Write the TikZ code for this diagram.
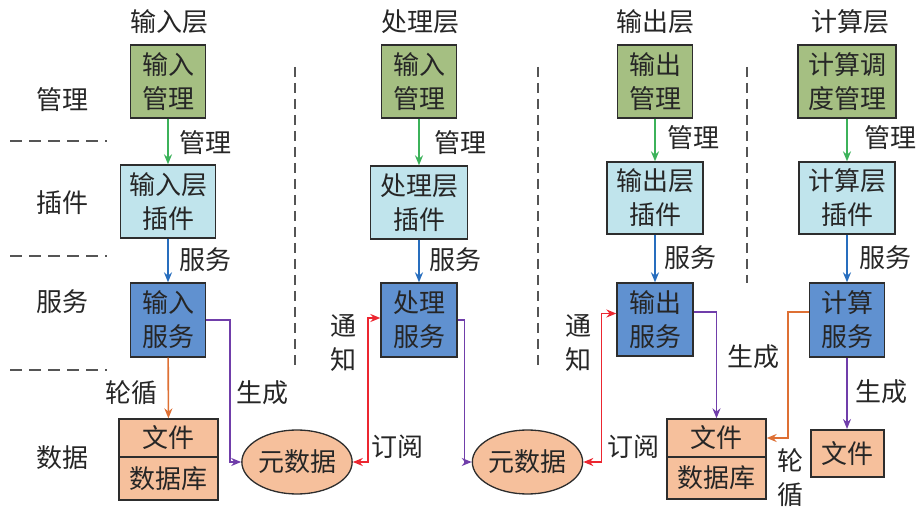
\documentclass[tikz,border=0pt]{standalone}
\usepackage{fontspec}
\newfontfamily\cjk{Noto Sans CJK SC}
\usetikzlibrary{arrows.meta,shapes.geometric}
\definecolor{mgmtc}{RGB}{165,191,130}
\definecolor{plugc}{RGB}{192,228,236}
\definecolor{servc}{RGB}{96,145,208}
\definecolor{datac}{RGB}{246,192,156}
\definecolor{bordc}{RGB}{45,45,45}
\definecolor{garr}{RGB}{60,178,90}
\definecolor{barr}{RGB}{40,110,190}
\definecolor{oarr}{RGB}{222,112,52}
\definecolor{parr}{RGB}{112,62,170}
\definecolor{rarr}{RGB}{236,38,48}
\definecolor{dashc}{RGB}{85,85,85}
\begin{document}
\begin{tikzpicture}[x=1pt,y=-1pt,
  every node/.style={font=\cjk\fontsize{26}{34}\selectfont, inner sep=0pt, align=center, text=black!85},
  bx/.style={draw=bordc, line width=1.3pt},
  mgmt/.style={bx, fill=mgmtc},
  plug/.style={bx, fill=plugc},
  serv/.style={bx, fill=servc},
  dat/.style={bx, fill=datac},
  meta/.style={bx, ellipse, fill=datac, minimum width=104pt, minimum height=64pt},
  arr/.style={-{Stealth[length=10pt,width=8pt]}, line width=1.6pt},
  darr/.style={{Stealth[length=10pt,width=8pt]}-{Stealth[length=10pt,width=8pt]}, line width=1.6pt},
  sep/.style={draw=dashc, line width=1.3pt, dash pattern=on 12pt off 7pt},
  vsep/.style={draw=dashc, line width=1.3pt, dash pattern=on 10pt off 6pt}]
\useasboundingbox (0,0) rectangle (919,513);

% headers
\node (h1) at (169,22) {输入层};
\node (h2) at (420,22) {处理层};
\node (h3) at (655,22) {输出层};
\node (h4) at (850,22) {计算层};

% row labels
\node (r1) at (62,100) {管理};
\node (r2) at (62,203) {插件};
\node (r3) at (62,302) {服务};
\node (r4) at (62,458) {数据};

% separators
\draw[sep] (10,141) -- (107,141);
\draw[sep] (10,256) -- (107,256);
\draw[sep] (10,370) -- (107,370);
\draw[vsep] (295,67) -- (295,370);
\draw[vsep] (538,67) -- (538,370);
\draw[vsep] (747,67) -- (747,283);

% input column
\node[mgmt, minimum width=75pt, minimum height=73pt] (im) at (168,81.5) {输入\\管理};
\node[plug, minimum width=95pt, minimum height=73pt] (ip) at (168,201.5) {输入层\\插件};
\node[serv, minimum width=75pt, minimum height=74pt] (is) at (168,320) {输入\\服务};
\node[dat, minimum width=99pt, minimum height=38pt] (d1a) at (168.5,438) {文件};
\node[dat, minimum width=99pt, minimum height=43pt] (d1b) at (168.5,478.5) {数据库};
\node[meta] (e1) at (297,462) {元数据};

% process column
\node[mgmt, minimum width=75pt, minimum height=73pt] (pm) at (419,81.5) {输入\\管理};
\node[plug, minimum width=97pt, minimum height=73pt] (pp) at (419,202.5) {处理层\\插件};
\node[serv, minimum width=76pt, minimum height=74pt] (ps) at (419,320) {处理\\服务};
\node[meta] (e2) at (527.5,462) {元数据};

% output column
\node[mgmt, minimum width=75pt, minimum height=73pt] (om) at (655,81.5) {输出\\管理};
\node[plug, minimum width=96pt, minimum height=72pt] (op) at (655,198) {输出层\\插件};
\node[serv, minimum width=76pt, minimum height=73pt] (os) at (655,319.5) {输出\\服务};
\node[dat, minimum width=99pt, minimum height=38pt] (d2a) at (716.5,438) {文件};
\node[dat, minimum width=99pt, minimum height=42pt] (d2b) at (716.5,478) {数据库};

% compute column
\node[mgmt, minimum width=98pt, minimum height=73pt] (cm) at (847,81.5) {计算调\\度管理};
\node[plug, minimum width=96pt, minimum height=72pt] (cp) at (847,198) {计算层\\插件};
\node[serv, minimum width=75pt, minimum height=74pt] (cs) at (847,320) {计算\\服务};
\node[dat, line width=2pt, minimum width=73pt, minimum height=47pt] (d3) at (847,453.5) {文件};

% vertical arrows
\draw[arr, garr] (im) -- (ip);
\draw[arr, barr] (ip) -- (is);
\draw[arr, oarr] (is) -- (d1a);
\draw[arr, garr] (pm) -- (pp);
\draw[arr, barr] (pp) -- (ps);
\draw[arr, garr] (om) -- (op);
\draw[arr, barr] (op) -- (os);
\draw[arr, garr] (cm) -- (cp);
\draw[arr, barr] (cp) -- (cs);
\draw[arr, parr] (cs) -- (d3);

% bent connectors
\draw[arr, parr] (is.east) -- ++(24,0) |- (e1.west);
\draw[arr, parr] (ps.east) -- ++(7,0) |- (e2.west);
\draw[arr, parr] ([yshift=7.5pt]os.east) -| (d2a.north);
\draw[arr, oarr] ([yshift=8pt]cs.west) -- ++(-21,0) |- (d2a.east);
\draw[darr, rarr] (e1.east) -- ++(15,0) |- ([yshift=2pt]ps.west);
\draw[darr, rarr] (e2.east) -- ++(18,0) |- ([yshift=6pt]os.west);

% arrow labels
\node (l1) at (205,143) {管理};
\node (l2) at (460,143) {管理};
\node (l3) at (693,138) {管理};
\node (l4) at (890,138) {管理};
\node (s1) at (205,260) {服务};
\node (s2) at (455,260) {服务};
\node (s3) at (690,258) {服务};
\node (s4) at (885,258) {服务};
\node (p1) at (131,393) {轮循};
\node (g1) at (262,393) {生成};
\node (n1) at (343,343) {通\\知};
\node (y1) at (397,447) {订阅};
\node (n2) at (578,343) {通\\知};
\node (y2) at (633,447) {订阅};
\node (g2) at (753,357) {生成};
\node (p2) at (790,478) {轮\\循};
\node (g3) at (881,392) {生成};
\end{tikzpicture}
\end{document}
